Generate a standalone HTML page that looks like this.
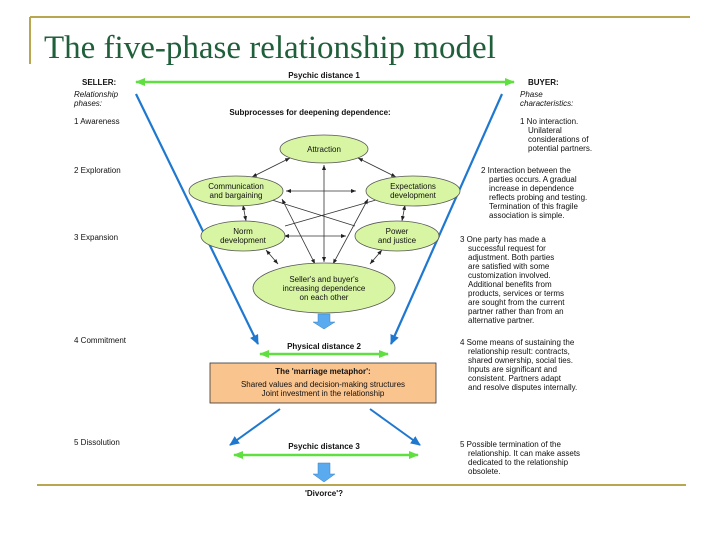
<!DOCTYPE html>
<html><head><meta charset="utf-8"><style>
html,body{margin:0;padding:0;background:#fff;width:720px;height:540px;overflow:hidden}
svg{display:block}
.t{font-family:"Liberation Sans",sans-serif;font-size:8px;fill:#111}
.b{font-weight:bold}
</style></head><body>
<svg width="720" height="540" viewBox="0 0 720 540">
<defs>
<marker id="ga" markerUnits="userSpaceOnUse" markerWidth="10" markerHeight="8" refX="9" refY="4" orient="auto-start-reverse"><path d="M0,0 L10,4 L0,8 z" fill="#5fe040"/></marker>
<marker id="ba" markerUnits="userSpaceOnUse" markerWidth="10" markerHeight="9" refX="9" refY="4.5" orient="auto"><path d="M0,0 L10,4.5 L0,9 z" fill="#1f78d0"/></marker>
<marker id="ka" markerUnits="userSpaceOnUse" markerWidth="5" markerHeight="4" refX="5" refY="2" orient="auto-start-reverse"><path d="M0,0 L5,2 L0,4 z" fill="#222"/></marker>
</defs>
<line x1="30" y1="17" x2="690" y2="17" stroke="#b9a650" stroke-width="2"/>
<line x1="30" y1="17" x2="30" y2="64" stroke="#b9a650" stroke-width="2"/>
<line x1="37" y1="485" x2="686" y2="485" stroke="#b9a650" stroke-width="2"/>
<text x="44" y="58" style="font-family:'Liberation Serif',serif;font-size:33px;fill:#1f5f3a">The five-phase relationship model</text>

<text x="324" y="78" class="t b" text-anchor="middle">Psychic distance 1</text>
<line x1="136" y1="82" x2="514" y2="82" stroke="#5fe040" stroke-width="2.5" marker-start="url(#ga)" marker-end="url(#ga)"/>
<text x="82" y="85" class="t b">SELLER:</text>
<text x="528" y="85" class="t b">BUYER:</text>
<text x="74" y="97" class="t" font-style="italic">Relationship</text>
<text x="74" y="106" class="t" font-style="italic">phases:</text>
<text x="520" y="97" class="t" font-style="italic">Phase</text>
<text x="520" y="106" class="t" font-style="italic">characteristics:</text>
<text x="310" y="115" class="t b" text-anchor="middle">Subprocesses for deepening dependence:</text>

<text x="74" y="124" class="t">1 Awareness</text>
<text x="74" y="173" class="t">2 Exploration</text>
<text x="74" y="240" class="t">3 Expansion</text>
<text x="74" y="343" class="t">4 Commitment</text>
<text x="74" y="445" class="t">5 Dissolution</text>

<line x1="136" y1="94" x2="258" y2="344" stroke="#1f78d0" stroke-width="2.2" marker-end="url(#ba)"/>
<line x1="502" y1="94" x2="391" y2="344" stroke="#1f78d0" stroke-width="2.2" marker-end="url(#ba)"/>

<g stroke="#333" stroke-width="0.8" fill="none">
<line x1="290" y1="158" x2="252" y2="177" marker-start="url(#ka)" marker-end="url(#ka)"/>
<line x1="358" y1="158" x2="396" y2="177" marker-start="url(#ka)" marker-end="url(#ka)"/>
<line x1="324" y1="165" x2="324" y2="262" marker-start="url(#ka)" marker-end="url(#ka)"/>
<line x1="286" y1="191" x2="356" y2="191" marker-start="url(#ka)" marker-end="url(#ka)"/>
<line x1="243" y1="205" x2="246" y2="221" marker-start="url(#ka)" marker-end="url(#ka)"/>
<line x1="405" y1="205" x2="402" y2="221" marker-start="url(#ka)" marker-end="url(#ka)"/>
<line x1="272" y1="200" x2="355" y2="226"/>
<line x1="376" y1="200" x2="285" y2="226"/>
<line x1="284" y1="236" x2="346" y2="236" marker-start="url(#ka)" marker-end="url(#ka)"/>
<line x1="282" y1="199" x2="315" y2="264" marker-start="url(#ka)" marker-end="url(#ka)"/>
<line x1="368" y1="199" x2="333" y2="264" marker-start="url(#ka)" marker-end="url(#ka)"/>
<line x1="266" y1="250" x2="278" y2="264" marker-start="url(#ka)" marker-end="url(#ka)"/>
<line x1="382" y1="250" x2="370" y2="264" marker-start="url(#ka)" marker-end="url(#ka)"/>
</g>

<g fill="#d8f5a4" stroke="#555" stroke-width="0.8">
<ellipse cx="324" cy="149" rx="44" ry="14"/>
<ellipse cx="236" cy="191" rx="47" ry="15"/>
<ellipse cx="413" cy="191" rx="47" ry="15"/>
<ellipse cx="243" cy="236" rx="42" ry="15"/>
<ellipse cx="397" cy="236" rx="42" ry="15"/>
<ellipse cx="324" cy="288" rx="71" ry="25"/>
</g>
<text x="324" y="152" class="t" text-anchor="middle">Attraction</text>
<text x="236" y="189" class="t" text-anchor="middle">Communication</text>
<text x="236" y="198" class="t" text-anchor="middle">and bargaining</text>
<text x="413" y="189" class="t" text-anchor="middle">Expectations</text>
<text x="413" y="198" class="t" text-anchor="middle">development</text>
<text x="243" y="234" class="t" text-anchor="middle">Norm</text>
<text x="243" y="243" class="t" text-anchor="middle">development</text>
<text x="397" y="234" class="t" text-anchor="middle">Power</text>
<text x="397" y="243" class="t" text-anchor="middle">and justice</text>
<text x="324" y="282" class="t" text-anchor="middle">Seller's and buyer's</text>
<text x="324" y="291" class="t" text-anchor="middle">increasing dependence</text>
<text x="324" y="300" class="t" text-anchor="middle">on each other</text>

<path d="M318,314 H330 V322 H335 L324,329 L313,322 H318 Z" fill="#5aaaf0" stroke="#3a80c0" stroke-width="0.5"/>

<text x="324" y="349" class="t b" text-anchor="middle">Physical distance 2</text>
<line x1="260" y1="354" x2="388" y2="354" stroke="#5fe040" stroke-width="2.5" marker-start="url(#ga)" marker-end="url(#ga)"/>

<rect x="210" y="363" width="226" height="40" fill="#fac48f" stroke="#333" stroke-width="0.8"/>
<text x="323" y="374" class="t b" text-anchor="middle">The 'marriage metaphor':</text>
<text x="323" y="387" class="t" text-anchor="middle">Shared values and decision-making structures</text>
<text x="323" y="396" class="t" text-anchor="middle">Joint investment in the relationship</text>

<line x1="280" y1="409" x2="230" y2="445" stroke="#1f78d0" stroke-width="2" marker-end="url(#ba)"/>
<line x1="370" y1="409" x2="420" y2="445" stroke="#1f78d0" stroke-width="2" marker-end="url(#ba)"/>

<text x="324" y="449" class="t b" text-anchor="middle">Psychic distance 3</text>
<line x1="234" y1="455" x2="418" y2="455" stroke="#5fe040" stroke-width="2.5" marker-start="url(#ga)" marker-end="url(#ga)"/>

<path d="M318,463 H330 V474 H335 L324,482 L313,474 H318 Z" fill="#5aaaf0" stroke="#3a80c0" stroke-width="0.5"/>
<text x="324" y="496" class="t b" text-anchor="middle">'Divorce'?</text>

<g class="t">
<text x="520" y="124">1 No interaction.</text>
<text x="528" y="133">Unilateral</text>
<text x="528" y="142">considerations of</text>
<text x="528" y="151">potential partners.</text>
<text x="481" y="173">2 Interaction between the</text>
<text x="489" y="182">parties occurs. A gradual</text>
<text x="489" y="191">increase in dependence</text>
<text x="489" y="200">reflects probing and testing.</text>
<text x="489" y="209">Termination of this fragile</text>
<text x="489" y="218">association is simple.</text>
<text x="460" y="242">3 One party has made a</text>
<text x="468" y="251">successful request for</text>
<text x="468" y="260">adjustment. Both parties</text>
<text x="468" y="269">are satisfied with some</text>
<text x="468" y="278">customization involved.</text>
<text x="468" y="287">Additional benefits from</text>
<text x="468" y="296">products, services or terms</text>
<text x="468" y="305">are sought from the current</text>
<text x="468" y="314">partner rather than from an</text>
<text x="468" y="323">alternative partner.</text>
<text x="460" y="345">4 Some means of sustaining the</text>
<text x="468" y="354">relationship result: contracts,</text>
<text x="468" y="363">shared ownership, social ties.</text>
<text x="468" y="372">Inputs are significant and</text>
<text x="468" y="381">consistent. Partners adapt</text>
<text x="468" y="390">and resolve disputes internally.</text>
<text x="460" y="447">5 Possible termination of the</text>
<text x="468" y="456">relationship. It can make assets</text>
<text x="468" y="465">dedicated to the relationship</text>
<text x="468" y="474">obsolete.</text>
</g>
</svg>
</body></html>
